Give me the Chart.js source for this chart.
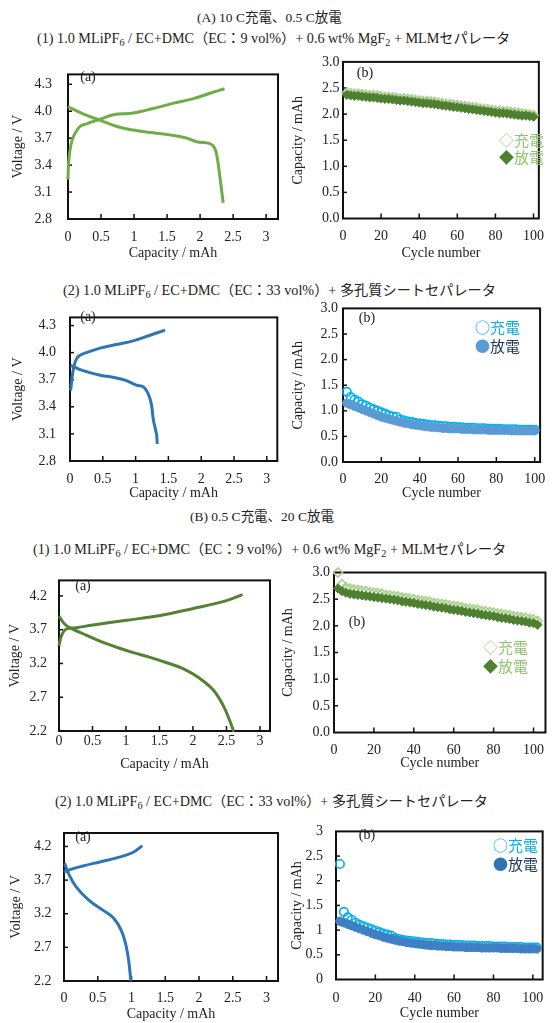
<!DOCTYPE html>
<html><head><meta charset="utf-8">
<script src="https://cdn.jsdelivr.net/npm/chart.js@4.4.0/dist/chart.umd.min.js"></script>
<style>
body{margin:0;width:554px;height:1023px;background:#fff;position:relative;overflow:hidden;font-family:'Liberation Serif','Noto Sans CJK JP',serif;}
canvas{position:absolute;}
.t{position:absolute;white-space:nowrap;font-size:13.5px;line-height:16px;color:#222;transform:translateY(-50%);}
.t.s{font-size:14.2px;}
.t sub{font-size:0.72em;vertical-align:-0.3em;line-height:0}
.p{position:absolute;font-size:14px;line-height:16px;color:#222;transform:translate(-50%,-50%);}
.lg{position:absolute;font-family:'Noto Sans CJK JP',sans-serif;font-size:15px;line-height:18px;white-space:nowrap;transform:translateY(-50%);}
</style></head><body>

<div class="t" style="left:197px;top:18px">(A) 10 C充電、0.5 C放電</div>
<div class="t s" style="left:37px;top:38px">(1) 1.0 MLiPF<sub>6</sub> / EC+DMC（EC：9 vol%）+ 0.6 wt% MgF<sub>2</sub> + MLMセパレータ</div>
<div class="t s" style="left:63px;top:290px">(2) 1.0 MLiPF<sub>6</sub> / EC+DMC（EC：33 vol%）+ 多孔質シートセパレータ</div>
<div class="t" style="left:190px;top:517px">(B) 0.5 C充電、20 C放電</div>
<div class="t s" style="left:33px;top:549px">(1) 1.0 MLiPF<sub>6</sub> / EC+DMC（EC：9 vol%）+ 0.6 wt% MgF<sub>2</sub> + MLMセパレータ</div>
<div class="t s" style="left:55px;top:801px">(2) 1.0 MLiPF<sub>6</sub> / EC+DMC（EC：33 vol%）+ 多孔質シートセパレータ</div>

<canvas id="a1a" width="280" height="212" style="left:0;top:50px"></canvas>
<canvas id="a1b" width="274" height="212" style="left:280px;top:50px"></canvas>
<canvas id="a2a" width="280" height="207" style="left:0;top:295px"></canvas>
<canvas id="a2b" width="274" height="207" style="left:280px;top:295px"></canvas>
<canvas id="b1a" width="280" height="213" style="left:0;top:560px"></canvas>
<canvas id="b1b" width="274" height="213" style="left:280px;top:560px"></canvas>
<canvas id="b2a" width="280" height="211" style="left:0;top:812px"></canvas>
<canvas id="b2b" width="274" height="213" style="left:280px;top:810px"></canvas>

<div class="p" style="left:88px;top:77px">(a)</div>
<div class="p" style="left:365px;top:73px">(b)</div>
<div class="p" style="left:88px;top:317px">(a)</div>
<div class="p" style="left:367px;top:318px">(b)</div>
<div class="p" style="left:83px;top:586px">(a)</div>
<div class="p" style="left:357px;top:622px">(b)</div>
<div class="p" style="left:83px;top:837px">(a)</div>
<div class="p" style="left:367px;top:835px">(b)</div>

<div class="lg" style="left:499px;top:140px"><span style="color:#a9d18e">◇</span><span style="color:#8cc46c">充電</span></div>
<div class="lg" style="left:499px;top:157px"><span style="color:#4f7f30">◆</span><span style="color:#8cc46c">放電</span></div>
<div class="lg" style="left:475px;top:327px"><span style="color:#00b0f0">○</span><span style="color:#00b0f0">充電</span></div>
<div class="lg" style="left:475px;top:346px"><span style="color:#5b9bd5">●</span><span style="color:#1f3864">放電</span></div>
<div class="lg" style="left:483px;top:647px"><span style="color:#a9d18e">◇</span><span style="color:#8cc46c">充電</span></div>
<div class="lg" style="left:483px;top:666px"><span style="color:#4f7f30">◆</span><span style="color:#8cc46c">放電</span></div>
<div class="lg" style="left:493px;top:845px"><span style="color:#00b0f0">○</span><span style="color:#00b0f0">充電</span></div>
<div class="lg" style="left:493px;top:864px"><span style="color:#2e75b6">●</span><span style="color:#1f3864">放電</span></div>

<script>
// ---------- tick arrays ----------
const capTicks = [0, 0.5, 1, 1.5, 2, 2.5, 3];
const capTickLabels = ['0', '0.5', '1', '1.5', '2', '2.5', '3'];
const voltTicksA = [2.8, 3.1, 3.4, 3.7, 4.0, 4.3];
const voltTickLabelsA = ['2.8', '3.1', '3.4', '3.7', '4.0', '4.3'];
const voltTicksB = [2.2, 2.7, 3.2, 3.7, 4.2];
const voltTickLabelsB = ['2.2', '2.7', '3.2', '3.7', '4.2'];
const cycleTicks = [0, 20, 40, 60, 80, 100];
const cycleTickLabels = ['0', '20', '40', '60', '80', '100'];
const capYTicks = [0, 0.5, 1, 1.5, 2, 2.5, 3];
const capYTickLabels1 = ['0.0', '0.5', '1.0', '1.5', '2.0', '2.5', '3.0'];
const capYTickLabels2 = ['0', '0.5', '1', '1.5', '2', '2.5', '3'];

// ---------- (A)(1)(a) charge / discharge curves ----------
const a1ChargeCap = [0, 0.01, 0.04, 0.09, 0.18, 0.28, 0.48, 0.69, 0.99, 1.29, 1.6, 1.9, 2.15, 2.37];
const a1ChargeV   = [3.24, 3.44, 3.61, 3.73, 3.83, 3.86, 3.91, 3.96, 3.98, 4.03, 4.09, 4.14, 4.2, 4.25];
const a1DisCap = [0, 0.23, 0.48, 0.74, 0.99, 1.29, 1.6, 1.8, 1.95, 2.15, 2.22, 2.26, 2.3, 2.35];
const a1DisV   = [4.05, 3.97, 3.9, 3.83, 3.79, 3.76, 3.73, 3.7, 3.66, 3.64, 3.59, 3.48, 3.27, 2.98];

// ---------- (A)(2)(a) ----------
const a2ChargeCap = [0.01, 0.04, 0.08, 0.13, 0.25, 0.46, 0.71, 0.96, 1.21, 1.45];
const a2ChargeV   = [3.58, 3.77, 3.9, 3.96, 4.0, 4.05, 4.09, 4.13, 4.19, 4.25];
const a2DisCap = [0.01, 0.2, 0.46, 0.71, 0.86, 1.01, 1.12, 1.19, 1.24, 1.27, 1.32, 1.33];
const a2DisV   = [3.86, 3.8, 3.75, 3.72, 3.69, 3.64, 3.62, 3.55, 3.43, 3.26, 3.09, 2.99];

// ---------- (B)(1)(a) ----------
const b1ChargeCap = [0, 0.04, 0.11, 0.26, 0.51, 1.01, 1.51, 1.99, 2.5, 2.74];
const b1ChargeV   = [3.46, 3.62, 3.71, 3.73, 3.77, 3.84, 3.91, 4.01, 4.13, 4.22];
const b1DisCap = [0, 0.11, 0.36, 0.61, 0.86, 1.11, 1.36, 1.61, 1.86, 2.1, 2.3, 2.45, 2.55, 2.61];
const b1DisV   = [3.9, 3.76, 3.64, 3.53, 3.44, 3.36, 3.29, 3.21, 3.12, 2.98, 2.81, 2.58, 2.35, 2.19];

// ---------- (B)(2)(a) ----------
const b2ChargeCap = [0, 0.03, 0.1, 0.28, 0.53, 0.78, 1.02, 1.16];
const b2ChargeV   = [3.82, 3.83, 3.86, 3.91, 3.97, 4.03, 4.11, 4.21];
const b2DisCap = [0.01, 0.06, 0.18, 0.38, 0.58, 0.73, 0.85, 0.92, 0.96, 0.99];
const b2DisV   = [3.95, 3.81, 3.6, 3.39, 3.25, 3.14, 2.95, 2.72, 2.49, 2.2];

// ---------- cycle numbers ----------
const cyclesA = [2,4,6,8,10,12,14,16,18,20,22,24,26,28,30,32,34,36,38,40,42,44,46,48,50,52,54,56,58,60,62,64,66,68,70,72,74,76,78,80,82,84,86,88,90,92,94,96,98,100];
const cyclesB = [2,4,6,8,10,12,14,16,18,20,22,24,26,28,30,32,34,36,38,40,42,44,46,48,50,52,54,56,58,60,62,64,66,68,70,72,74,76,78,80,82,84,86,88,90,92,94,96,98,100,102];

// ---------- (A)(1)(b) ----------
const a1CycCharge = [2.41,2.40,2.39,2.39,2.38,2.37,2.36,2.36,2.35,2.34,2.33,2.33,2.32,2.31,2.30,2.30,2.29,2.28,2.27,2.26,2.25,2.25,2.24,2.23,2.22,2.21,2.20,2.19,2.18,2.17,2.16,2.15,2.14,2.13,2.12,2.11,2.10,2.09,2.08,2.07,2.06,2.05,2.05,2.04,2.03,2.02,2.01,2.00,1.99,1.98];
const a1CycDis = [2.37,2.36,2.35,2.35,2.34,2.33,2.32,2.32,2.31,2.30,2.29,2.29,2.28,2.27,2.26,2.26,2.25,2.24,2.23,2.22,2.21,2.21,2.20,2.19,2.18,2.17,2.16,2.15,2.14,2.13,2.12,2.11,2.10,2.09,2.08,2.07,2.06,2.05,2.04,2.03,2.02,2.02,2.01,2.00,1.99,1.98,1.97,1.97,1.96,1.95];

// ---------- (A)(2)(b) ----------
const a2CycCharge = [1.37,1.27,1.22,1.18,1.13,1.10,1.06,1.03,1.00,0.97,0.94,0.91,0.89,0.88,0.83,0.81,0.79,0.78,0.76,0.75,0.74,0.73,0.72,0.72,0.71,0.70,0.70,0.69,0.69,0.68,0.68,0.67,0.67,0.67,0.66,0.66,0.66,0.65,0.65,0.65,0.65,0.64,0.64,0.64,0.64,0.63,0.63,0.63,0.63,0.63];
const a2CycDis = [1.15,1.12,1.09,1.06,1.03,1.00,0.97,0.94,0.91,0.88,0.86,0.84,0.82,0.80,0.78,0.76,0.75,0.73,0.72,0.71,0.70,0.69,0.68,0.68,0.67,0.66,0.66,0.65,0.65,0.65,0.64,0.64,0.64,0.63,0.63,0.63,0.63,0.62,0.62,0.62,0.62,0.62,0.62,0.61,0.61,0.61,0.61,0.61,0.61,0.61];

// ---------- (B)(1)(b) ----------
const b1CycCharge = [3.00,2.78,2.72,2.70,2.68,2.67,2.66,2.65,2.63,2.62,2.61,2.60,2.58,2.57,2.56,2.55,2.53,2.52,2.51,2.50,2.48,2.47,2.46,2.45,2.43,2.42,2.41,2.40,2.38,2.37,2.36,2.35,2.33,2.32,2.31,2.30,2.28,2.27,2.26,2.25,2.23,2.22,2.21,2.20,2.18,2.17,2.16,2.15,2.13,2.12,2.09];
const b1CycDis = [2.70,2.65,2.62,2.60,2.59,2.58,2.57,2.56,2.55,2.54,2.53,2.52,2.51,2.50,2.49,2.48,2.46,2.45,2.44,2.43,2.41,2.40,2.39,2.38,2.36,2.35,2.34,2.33,2.31,2.30,2.29,2.28,2.26,2.25,2.24,2.23,2.21,2.20,2.19,2.18,2.16,2.15,2.14,2.13,2.11,2.10,2.09,2.08,2.06,2.05,2.02];

// ---------- (B)(2)(b) ----------
const b2CycCharge = [2.34,1.37,1.26,1.21,1.15,1.11,1.08,1.05,1.02,0.99,0.96,0.93,0.91,0.89,0.84,0.82,0.80,0.79,0.78,0.77,0.76,0.75,0.74,0.74,0.73,0.72,0.72,0.71,0.71,0.70,0.70,0.70,0.69,0.69,0.69,0.68,0.68,0.68,0.68,0.67,0.67,0.67,0.67,0.66,0.66,0.66,0.66,0.65,0.65,0.65,0.65];
const b2CycDis = [1.18,1.15,1.12,1.09,1.06,1.03,1.00,0.97,0.94,0.91,0.89,0.86,0.84,0.82,0.80,0.78,0.77,0.75,0.74,0.73,0.72,0.71,0.70,0.69,0.69,0.68,0.68,0.67,0.67,0.66,0.66,0.66,0.65,0.65,0.65,0.65,0.64,0.64,0.64,0.64,0.64,0.63,0.63,0.63,0.63,0.63,0.62,0.62,0.62,0.62,0.62];

// ---------- helpers ----------
Chart.defaults.font.family = "'Liberation Serif', serif";
Chart.defaults.color = '#222';
const zip = (xs, ys) => xs.map((x, i) => ({x: x, y: ys[i]}));

const framePlugin = {
  id: 'frame',
  beforeDatasetsDraw(chart) {
    const {ctx, chartArea: a} = chart;
    ctx.save();
    ctx.strokeStyle = '#111';
    ctx.lineWidth = 2;
    ctx.strokeRect(a.left, a.top, a.right - a.left, a.bottom - a.top);
    const xs = chart.scales.x, ys = chart.scales.y;
    ctx.lineWidth = 1.5;
    xs.ticks.forEach(t => {
      const px = xs.getPixelForValue(t.value);
      if (px <= a.left + 2 || px >= a.right - 2) return;
      ctx.beginPath(); ctx.moveTo(px, a.bottom); ctx.lineTo(px, a.bottom - 5); ctx.stroke();
    });
    ys.ticks.forEach(t => {
      const py = ys.getPixelForValue(t.value);
      if (py <= a.top + 2 || py >= a.bottom - 2) return;
      ctx.beginPath(); ctx.moveTo(a.left, py); ctx.lineTo(a.left + 4, py); ctx.stroke();
    });
    ctx.restore();
  }
};

function axis(c) {
  const horiz = c.pos === 'bottom';
  return {
    type: 'linear', position: c.pos, min: c.min, max: c.max,
    afterFit: s => { if (horiz) s.height = c.size; else s.width = c.size; },
    afterBuildTicks: s => { s.ticks = c.ticks.map(v => ({value: v})); },
    grid: {display: false, drawTicks: false},
    border: {display: false},
    ticks: {autoSkip: false, maxRotation: 0, minRotation: 0, padding: c.pad, color: '#222',
            font: {size: 14}, callback: (v, i) => c.labels[i]},
    title: {display: true, text: c.title, color: '#222', font: {size: 14},
            padding: horiz ? {top: 0, bottom: c.tpad} : {top: c.tpad, bottom: 0}}
  };
}

function voltChart(id, g, color, chargeX, chargeY, disX, disY) {
  new Chart(document.getElementById(id), {
    type: 'scatter',
    data: {datasets: [
      {data: zip(chargeX, chargeY), showLine: true, borderColor: color, borderWidth: 3, pointRadius: 0, tension: 0.4, clip: false},
      {data: zip(disX, disY), showLine: true, borderColor: color, borderWidth: 3, pointRadius: 0, tension: 0.4, clip: false}
    ]},
    options: {
      responsive: false, animation: false, devicePixelRatio: 1,
      layout: {padding: {top: g.pt, right: g.pr, left: 0, bottom: 0}},
      plugins: {legend: {display: false}, tooltip: {enabled: false}},
      scales: {
        x: axis({pos: 'bottom', min: 0, max: g.xmax, size: g.xh, ticks: capTicks, labels: capTickLabels, pad: g.xpad, title: 'Capacity / mAh', tpad: g.xtp}),
        y: axis({pos: 'left', min: g.ymin, max: g.ymax, size: g.yw, ticks: g.yt, labels: g.yl, pad: g.ypad, title: 'Voltage / V', tpad: g.ytp})
      }
    },
    plugins: [framePlugin]
  });
}

function cycleChart(id, g, cycles, chg, dis, st) {
  new Chart(document.getElementById(id), {
    type: 'scatter',
    data: {datasets: [
      {data: zip(cycles, dis), pointStyle: st.shape, pointRadius: st.r, backgroundColor: st.disFill, borderColor: st.disStroke, borderWidth: 1, clip: false},
      {data: zip(cycles, chg), pointStyle: st.shape, pointRadius: st.r, backgroundColor: 'rgba(255,255,255,0)', borderColor: st.chgStroke, borderWidth: 1.6, clip: false}
    ]},
    options: {
      responsive: false, animation: false, devicePixelRatio: 1,
      layout: {padding: {top: g.pt, right: g.pr, left: 0, bottom: 0}},
      plugins: {legend: {display: false}, tooltip: {enabled: false}},
      scales: {
        x: axis({pos: 'bottom', min: 0, max: g.xmax, size: g.xh, ticks: cycleTicks, labels: cycleTickLabels, pad: g.xpad, title: 'Cycle number', tpad: g.xtp}),
        y: axis({pos: 'left', min: 0, max: 3, size: g.yw, ticks: capYTicks, labels: g.yl, pad: g.ypad, title: 'Capacity / mAh', tpad: g.ytp})
      }
    },
    plugins: [framePlugin]
  });
}

const greenLight = '#70ad47', greenDark = '#548235', blue = '#2e75b6';
const diaStyle = {shape: 'rectRot', r: 4.6, disFill: '#4f7f30', disStroke: '#4f7f30', chgStroke: '#a9d18e'};
const cirStyleA = {shape: 'circle', r: 4.2, disFill: '#5b9bd5', disStroke: '#5b9bd5', chgStroke: '#00b0f0'};
const cirStyleB = {shape: 'circle', r: 4.2, disFill: '#3f7fc4', disStroke: '#3f7fc4', chgStroke: '#00b0f0'};

voltChart('a1a', {pt: 10, pr: 2, xmax: 3.18, xh: 43, xpad: 9.6, xtp: 0, ymin: 2.8, ymax: 4.41, yw: 68, yt: voltTicksA, yl: voltTickLabelsA, ypad: 16, ytp: 9.6},
  greenLight, a1ChargeCap, a1ChargeV, a1DisCap, a1DisV);
cycleChart('a1b', {pt: 10, pr: 7, xmax: 102.8, xh: 43.5, xpad: 9.8, xtp: 0, yw: 63, yl: capYTickLabels1, ypad: 3.5, ytp: 9.6},
  cyclesA, a1CycCharge, a1CycDis, diaStyle);
voltChart('a2a', {pt: 9, pr: 2, xmax: 3.16, xh: 41, xpad: 9.6, xtp: 0, ymin: 2.8, ymax: 4.39, yw: 70, yt: voltTicksA, yl: voltTickLabelsA, ypad: 14, ytp: 10.3},
  blue, a2ChargeCap, a2ChargeV, a2DisCap, a2DisV);
cycleChart('a2b', {pt: 9.5, pr: 7, xmax: 102.8, xh: 40, xpad: 8.6, xtp: 0, yw: 63, yl: capYTickLabels1, ypad: 5, ytp: 9.6},
  cyclesA, a2CycCharge, a2CycDis, cirStyleA);
voltChart('b1a', {pt: 10, pr: 10, xmax: 3.15, xh: 42, xpad: 2.3, xtp: 0, ymin: 2.2, ymax: 4.43, yw: 59, yt: voltTicksB, yl: voltTickLabelsB, ypad: 12, ytp: 7.1},
  greenDark, b1ChargeCap, b1ChargeV, b1DisCap, b1DisV);
cycleChart('b1b', {pt: 12.5, pr: 7, xmax: 106, xh: 40.5, xpad: 9.6, xtp: 1.3, yw: 54, yl: capYTickLabels1, ypad: 4, ytp: 0},
  cyclesB, b1CycCharge, b1CycDis, diaStyle);
voltChart('b2a', {pt: 10, pr: 2, xmax: 3.17, xh: 42, xpad: 8.9, xtp: 0.6, ymin: 2.2, ymax: 4.4, yw: 64, yt: voltTicksB, yl: voltTickLabelsB, ypad: 12.6, ytp: 7.6},
  blue, b2ChargeCap, b2ChargeV, b2DisCap, b2DisV);
cycleChart('b2b', {pt: 10, pr: 6, xmax: 105, xh: 43.5, xpad: 10.4, xtp: 1.6, yw: 56, yl: capYTickLabels2, ypad: 13, ytp: 9.1},
  cyclesB, b2CycCharge, b2CycDis, cirStyleB);
</script>
</body></html>
